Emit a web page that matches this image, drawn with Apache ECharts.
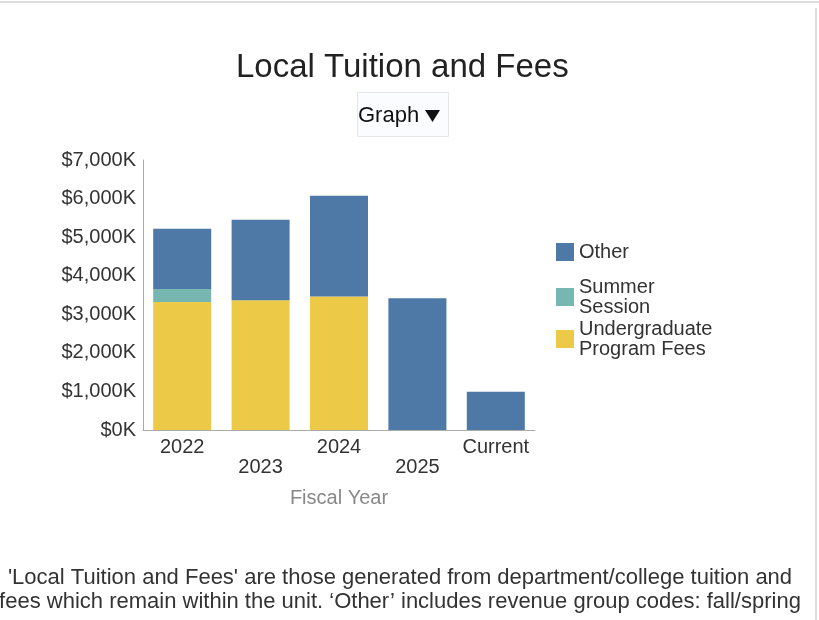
<!DOCTYPE html>
<html>
<head>
<meta charset="utf-8">
<script src="https://cdn.jsdelivr.net/npm/echarts@6/dist/echarts.min.js"></script>
<style>
  html, body { margin: 0; padding: 0; background: #fff; }
  #main { width: 819px; height: 620px; }
</style>
</head>
<body>
<div id="main"></div>
<script>
// fiscal years on the x axis
var years = ['2022', '2023', '2024', '2025', 'Current'];
// amounts in $K
var undergradFees = [3320, 3365, 3460, 0, 0];
var summerSession = [335, 0, 0, 0, 0];
var otherFees = [1560, 2085, 2615, 3415, 990];
var yTicks = [0, 1000, 2000, 3000, 4000, 5000, 6000, 7000];

var chart = echarts.init(document.getElementById('main'));
var font = 'Liberation Sans, Arial, sans-serif';

var option = {
    backgroundColor: '#fff',
    animation: false,
    textStyle: { fontFamily: font },
    title: {
        text: 'Local Tuition and Fees',
        left: 231,
        top: 46,
        textStyle: { fontSize: 33, fontWeight: 'normal', color: '#222', fontFamily: font }
    },
    legend: [{
        orient: 'vertical',
        left: 551,
        top: 237,
        icon: 'rect',
        itemWidth: 18,
        itemHeight: 18,
        itemGap: 7,
        data: ['Other'],
        textStyle: { fontSize: 20, color: '#333', lineHeight: 20 }
    }, {
        orient: 'vertical',
        left: 551,
        top: 272,
        icon: 'rect',
        itemWidth: 18,
        itemHeight: 18,
        itemGap: 2,
        data: ['Summer\nSession', 'Undergraduate\nProgram Fees'],
        textStyle: { fontSize: 20, color: '#333', lineHeight: 20 }
    }],
    grid: { left: 143, right: 284, top: 160, bottom: 190 },
    xAxis: {
        type: 'category',
        data: years,
        name: 'Fiscal Year',
        nameLocation: 'middle',
        nameGap: 58,
        nameTextStyle: { fontSize: 20, color: '#888' },
        axisLine: { lineStyle: { color: '#aaa' } },
        axisTick: { show: false },
        axisLabel: {
            fontSize: 20,
            color: '#333',
            lineHeight: 20,
            margin: 7,
            interval: 0,
            formatter: function (v, i) { return i % 2 ? '\n' + v : v; }
        }
    },
    yAxis: {
        type: 'value',
        min: yTicks[0],
        max: yTicks[yTicks.length - 1],
        interval: 1000,
        splitLine: { show: false },
        axisLine: { show: true, lineStyle: { color: '#aaa' } },
        axisTick: { show: false },
        axisLabel: {
            fontSize: 20,
            color: '#333',
            margin: 7,
            formatter: function (v) { return '$' + v.toLocaleString('en-US') + 'K'; }
        }
    },
    series: [
        {
            name: 'Undergraduate\nProgram Fees',
            type: 'bar',
            stack: 'total',
            barCategoryGap: '26%',
            data: undergradFees,
            itemStyle: { color: '#edc948' }
        },
        {
            name: 'Summer\nSession',
            type: 'bar',
            stack: 'total',
            data: summerSession,
            itemStyle: { color: '#76b7b2' }
        },
        {
            name: 'Other',
            type: 'bar',
            stack: 'total',
            data: otherFees,
            itemStyle: { color: '#4e79a7' }
        }
    ],
    graphic: [
        // page border
        { type: 'line', shape: { x1: 0, y1: 2, x2: 819, y2: 2 }, style: { stroke: '#ddd', lineWidth: 2 } },
        { type: 'line', shape: { x1: 816, y1: 8, x2: 816, y2: 620 }, style: { stroke: '#ddd', lineWidth: 2 } },
        // "Graph" dropdown
        { type: 'rect', shape: { x: 357.5, y: 92.5, width: 91, height: 44 },
          style: { fill: '#fbfcff', stroke: '#e4e6ea', lineWidth: 1 } },
        { type: 'text', left: 358, top: 105,
          style: { text: 'Graph', fontSize: 22, fill: '#111', fontFamily: font } },
        { type: 'polygon', shape: { points: [[425, 110], [440, 110], [432.5, 122]] },
          style: { fill: '#111' } },
        // footnote
        { type: 'text', x: 400, y: 566,
          style: {
              text: "'Local Tuition and Fees' are those generated from department/college tuition and\nfees which remain within the unit. \u2018Other\u2019 includes revenue group codes: fall/spring",
              fontSize: 22, lineHeight: 24, fill: '#333', align: 'center', verticalAlign: 'top', fontFamily: font
          } }
    ]
};

chart.setOption(option);
</script>
</body>
</html>
